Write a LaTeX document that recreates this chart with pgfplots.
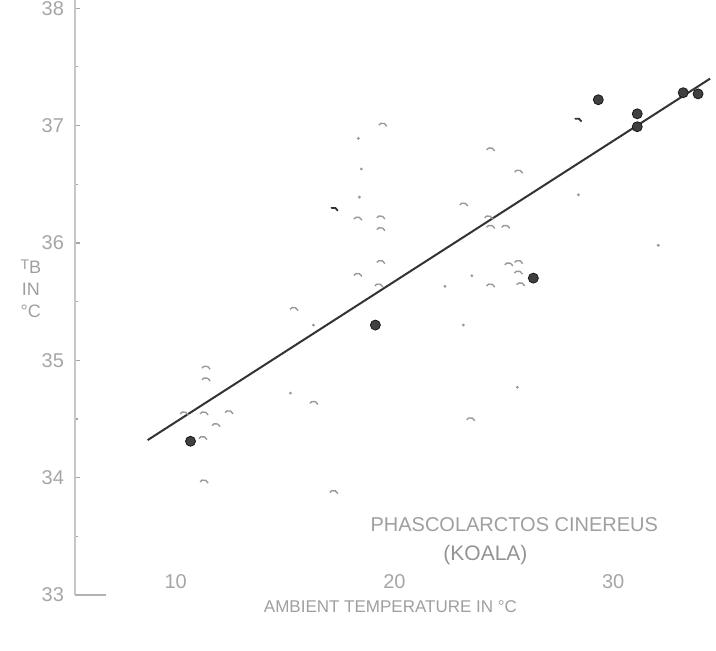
\documentclass[border=0pt]{standalone}
\usepackage{pgfplots}
\pgfplotsset{compat=1.18}
\usepackage{fontspec}
\setmainfont{Liberation Sans}
\begin{document}
\begin{tikzpicture}
\useasboundingbox (0,0) rectangle (358pt,325.5pt);
\begin{axis}[
  at={(37.5pt,28pt)}, anchor=south west,
  scale only axis, width=320.5pt, height=297.5pt,
  xmin=5.4, xmax=34.7, ymin=33, ymax=38.07,
  axis lines*=left,
  axis line style={-},
  x axis line style={draw=none},
  y axis line style={draw=gray!45, line width=0.6pt},
  xtick={10,20,30},
  xticklabels={10,20,30},
  xtick style={draw=none},
  ytick={33,34,35,36,37,38},
  minor ytick={33.5,34.5,35.5,36.5,37.5},
  ytick style={draw=gray!70, line width=0.6pt},
  major tick length=2.5pt, minor tick length=1.5pt,
  /pgf/number format/assume math mode=true,
  ticklabel style={font=\fontsize{10}{10}\selectfont, text=gray!70},
  xticklabel style={yshift=14pt},
  yticklabel style={xshift=-2pt},
  clip=false,
]
% regression line
\addplot[black!80, line width=1pt] coordinates {(8.72,34.32) (34.43,37.40)};
% short visible remnant of the x axis
\addplot[gray!60, line width=0.6pt] coordinates {(5.4,33) (6.8,33)};
% open circles (faded, only an arc survives)
\addplot[only marks, mark=o, mark size=2.4pt, gray!80, line width=0.7pt,
  mark options={rotate=20, dash pattern=on 5pt off 10.1pt}] coordinates {
(19.45,36.98) (24.38,36.77) (25.66,36.58) (23.15,36.30) (18.31,36.18)
(19.36,36.19) (19.36,36.09) (24.29,36.19) (24.38,36.11) (25.07,36.11)
(19.36,35.81) (18.31,35.70) (19.27,35.61) (25.66,35.81) (25.21,35.79)
(24.38,35.61) (25.65,35.72) (25.75,35.62) (15.39,35.41) (11.37,34.91)
(11.37,34.81) (10.37,34.52) (11.28,34.52) (12.42,34.53) (11.83,34.42)
(11.23,34.31) (16.30,34.61) (11.28,33.94) (17.21,33.85) (23.47,34.47)
};
% dark fragments
\addplot[only marks, mark=o, mark size=2.4pt, black!80, line width=0.9pt,
  mark options={rotate=20, dash pattern=on 4pt off 11.1pt}] coordinates {
(17.21,36.26) (28.35,37.02)
};
% tiny specks (remnants of faded points)
\addplot[only marks, mark=*, mark size=0.5pt, gray!80] coordinates {
(18.35,36.89) (18.49,36.63) (18.40,36.39) (28.41,36.41) (32.06,35.98)
(22.31,35.63) (23.54,35.72) (23.15,35.30) (16.30,35.30) (25.62,34.77)
(15.25,34.72)
};
% filled circles
\addplot[only marks, mark=*, mark size=2.5pt, black!85,
  mark options={fill=black!75, draw=black!90}] coordinates {
(10.68,34.31) (19.13,35.30) (26.35,35.70) (29.32,37.22) (31.10,37.10)
(31.10,36.99) (33.20,37.28) (33.88,37.27)
};
% annotations
\node[text=gray!75, font=\fontsize{10}{10}\selectfont] at (axis cs:25.48,33.60) {PHASCOLARCTOS CINEREUS};
\node[text=gray!85, font=\fontsize{10.5}{10.5}\selectfont] at (axis cs:24.16,33.34) {(KOALA)};
\node[text=gray!75, font=\fontsize{8.5}{8.5}\selectfont] at (axis cs:19.82,32.90) {AMBIENT TEMPERATURE IN °C};
\node[text=gray!75, font=\fontsize{9}{11}\selectfont, align=center] at (axis cs:3.38,35.61) {\raisebox{0.5ex}{\scriptsize T}B\\IN\\°C};
\end{axis}
\end{tikzpicture}
\end{document}
